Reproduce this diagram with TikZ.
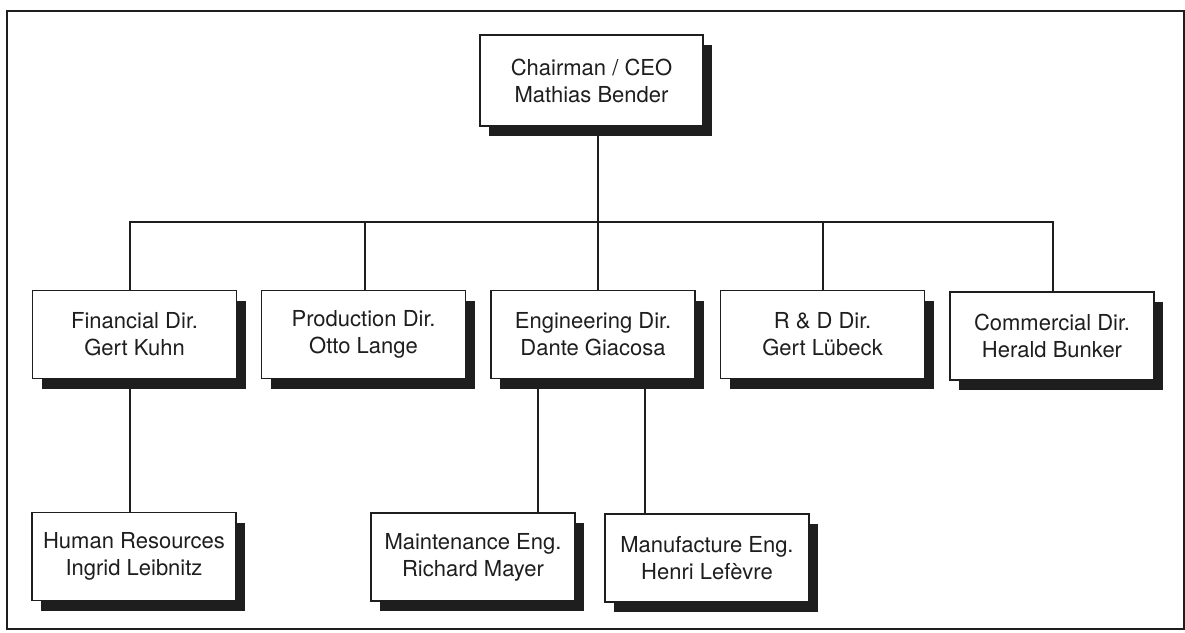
\documentclass[tikz,border=0pt]{standalone}
\usepackage{fontspec}
\setmainfont{TeX Gyre Heros}
\usetikzlibrary{shadows}
\definecolor{ink}{HTML}{1E1E1E}
\tikzset{
  person/.style={draw=ink, line width=1.7pt, fill=white, align=center,
    minimum width=204pt, minimum height=88pt, inner sep=0pt, text=ink,
    font=\fontsize{22}{27}\selectfont,
    drop shadow={shadow xshift=9pt, shadow yshift=-10pt, fill=ink, opacity=1}},
  link/.style={draw=ink, line width=1.9pt}
}
\begin{document}
\begin{tikzpicture}[x=1pt, y=-1pt]
\useasboundingbox (0,0) rectangle (1185,632);
% frame
\draw[ink, line width=2pt] (7,11) rectangle (1184,629);

% top
\node[person, minimum width=223pt, minimum height=91pt] (ceo) at (591.5,80.5) {Chairman / CEO\\Mathias Bender};

% directors
\node[person] (fin)  at (134.5,334.5) {Financial Dir.\\Gert Kuhn};
\node[person] (prod) at (363.5,334.5) {Production Dir.\\Otto Lange};
\node[person] (eng)  at (593,334.5)   {Engineering Dir.\\Dante Giacosa};
\node[person] (rnd)  at (822.5,334.5) {R \& D Dir.\\Gert Lübeck};
\node[person] (com)  at (1052,336)    {Commercial Dir.\\Herald Bunker};

% third level
\node[person] (hr)  at (134,556.5) {Human Resources\\Ingrid Leibnitz};
\node[person] (mnt) at (473,557)   {Maintenance Eng.\\Richard Mayer};
\node[person] (mfg) at (707,558)   {Manufacture Eng.\\Henri Lefèvre};

% bus line under the chairman
\coordinate (bus) at (0,222);
\coordinate (c0) at ([xshift=6.5pt]ceo.south);
\coordinate (f0) at ([xshift=-4.5pt]fin.north);
\coordinate (p0) at ([xshift=1.5pt]prod.north);
\coordinate (e0) at ([xshift=5pt]eng.north);
\coordinate (r0) at ([xshift=0.5pt]rnd.north);
\coordinate (k0) at ([xshift=1pt]com.north);

\draw[link] (c0) -- (c0 |- bus);
\draw[link] (f0) -- (f0 |- bus) -- (k0 |- bus) -- (k0);
\draw[link] (p0) -- (p0 |- bus);
\draw[link] (e0) -- (e0 |- bus);
\draw[link] (r0) -- (r0 |- bus);

% lower links
\coordinate (f1) at ([xshift=-4.5pt]fin.south);
\draw[link] (f1) -- (f1 |- hr.north);
\coordinate (e1) at ([xshift=48pt]eng.south west);
\coordinate (e2) at ([xshift=-51pt]eng.south east);
\draw[link] (e1) -- (e1 |- mnt.north);
\draw[link] (e2) -- (e2 |- mfg.north);
\end{tikzpicture}
\end{document}
